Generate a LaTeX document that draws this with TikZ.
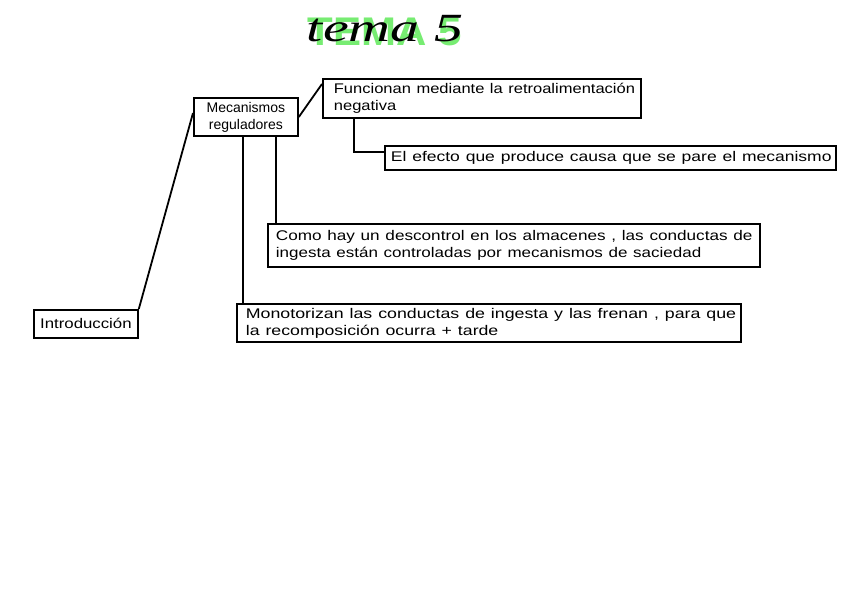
\documentclass[tikz,border=0pt]{standalone}
\usepackage{fontspec}
\usepackage{graphicx}
\setmainfont{Liberation Sans}
\newfontfamily\hand{Liberation Sans}
\newfontfamily\titlefont{Liberation Serif}
\definecolor{hlgreen}{HTML}{55E84F}
\newcommand\sx[2]{\scalebox{#1}[1]{#2}}
\tikzset{
  box/.style={draw=black, line width=1.8pt, anchor=north west, inner xsep=0pt, inner ysep=0pt,
    align=left, font=\hand\fontsize{14}{17}\selectfont},
  link/.style={draw=black, line width=1.8pt},
}
\begin{document}
\begin{tikzpicture}[x=1pt,y=-1pt]
\useasboundingbox[fill=white] (0,0) rectangle (848,599);
% title
\node[text=hlgreen, opacity=0.8, font=\bfseries\fontsize{40}{40}\selectfont, inner sep=0pt] (hl) at (385,32) {\sx{1.05}{TEMA 5}};
\node[font=\titlefont\itshape\fontsize{40}{40}\selectfont, inner sep=0pt] (title) at (385,29) {\sx{1.45}{tema 5}};
% boxes
\node[box, minimum width=104, minimum height=38, align=center] (mec) at (193,97) {\sx{1.0}{Mecanismos}\\\sx{1.0}{reguladores}};
\node[box, minimum width=318, minimum height=39, text width=296] (fun) at (322,78) {\sx{1.18}{Funcionan mediante la retroalimentación}\\\sx{1.18}{negativa}};
\node[box, minimum width=451, minimum height=24, text width=439] (efe) at (384,145) {\sx{1.25}{El efecto que produce causa que se pare el mecanismo}};
\node[box, minimum width=492, minimum height=43, text width=476] (como) at (267,223) {\sx{1.225}{Como hay un descontrol en los almacenes , las conductas de}\\\sx{1.215}{ingesta están controladas por mecanismos de saciedad}};
\node[box, minimum width=504, minimum height=38, text width=486] (mon) at (236,303) {\sx{1.27}{Monotorizan las conductas de ingesta y las frenan , para que}\\\sx{1.265}{la recomposición ocurra + tarde}};
\node[box, minimum width=104, minimum height=28, align=center] (intro) at (33,309) {\sx{1.2}{Introducción}};
% connectors
\coordinate (c1) at (354,152);
\draw[link] (intro.north east) -- ([yshift=-16pt]mec.north west);
\draw[link] ([yshift=-20pt]mec.north east) -- ([yshift=-6pt]fun.north west);
\draw[link] (fun.south west -| c1) -- (c1) -- (c1 -| efe.west);
\draw[link] (mec.south west -| 276,0) -- (como.north west -| 276,0);
\draw[link] (mec.south west -| 243,0) -- (mon.north west -| 243,0);
\end{tikzpicture}
\end{document}
